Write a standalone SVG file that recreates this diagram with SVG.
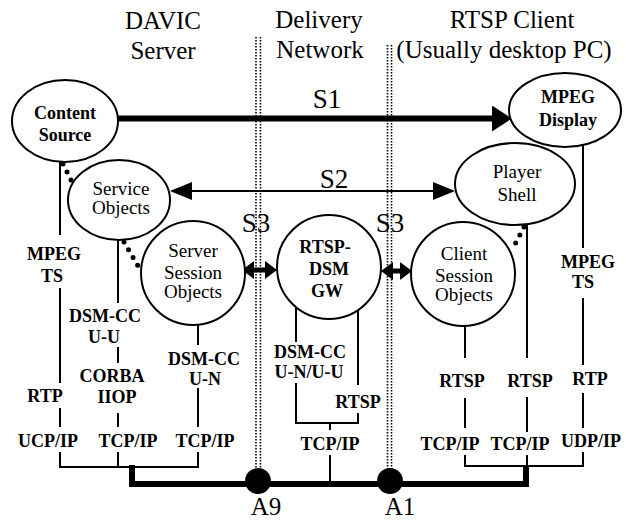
<svg xmlns="http://www.w3.org/2000/svg" width="626" height="522" viewBox="0 0 626 522">
  <style>
    .node { fill: #fff; stroke: #000; stroke-width: 2; }
    text { font-family: "Liberation Serif", "Times New Roman", serif; text-anchor: middle; fill: #000; }
    .hd { font-size: 25px; }
    .nt { font-size: 19px; }
    .nb { font-size: 18px; font-weight: bold; }
    .lb { font-size: 18px; font-weight: bold; }
    .sl { font-size: 27px; }
    .al { font-size: 25px; }
    .ln { stroke: #000; stroke-width: 2; fill: none; }
    .bus { stroke: #000; stroke-width: 6; fill: none; }
    .sep { stroke: #000; stroke-width: 1.6; stroke-dasharray: 1.6 1.4; }
    .dots { stroke: #000; stroke-width: 5; stroke-linecap: round; stroke-dasharray: 0 9; fill: none; }
  </style>
  <defs>
    <marker id="headBig" markerUnits="userSpaceOnUse" markerWidth="22" markerHeight="28" refX="0" refY="13" orient="auto">
      <path d="M0,0 L20,13 L0,26 z" fill="#000"/>
    </marker>
    <marker id="headMid" markerUnits="userSpaceOnUse" markerWidth="24" markerHeight="20" refX="0" refY="9" orient="auto-start-reverse">
      <path d="M0,0 L22,9 L0,18 z" fill="#000"/>
    </marker>
    <marker id="headS3" markerUnits="userSpaceOnUse" markerWidth="14" markerHeight="20" refX="0" refY="9" orient="auto-start-reverse">
      <path d="M0,0 L12,9 L0,18 z" fill="#000"/>
    </marker>
  </defs>

  <!-- column headings -->
  <g id="headings">
    <text class="hd" x="163" y="29">DAVIC</text>
    <text class="hd" x="163" y="59">Server</text>
    <text class="hd" x="319" y="28">Delivery</text>
    <text class="hd" x="320" y="58">Network</text>
    <text class="hd" x="512" y="28">RTSP Client</text>
    <text class="hd" x="504" y="58">(Usually desktop PC)</text>
  </g>

  <!-- reference-point boundaries -->
  <g id="boundaries">
    <line class="sep" x1="256" y1="37" x2="256" y2="470"/>
    <line class="sep" x1="260.5" y1="37" x2="260.5" y2="470"/>
    <line class="sep" x1="387.5" y1="45" x2="387.5" y2="470"/>
    <line class="sep" x1="391.5" y1="45" x2="391.5" y2="470"/>
  </g>

  <g id="connectors">
    <!-- S1 stream -->
    <line x1="118" y1="118.5" x2="492" y2="118.5" stroke="#000" stroke-width="6" marker-end="url(#headBig)"/>
    <!-- S2 -->
    <line x1="192" y1="191" x2="433" y2="191" stroke="#000" stroke-width="2.2" marker-start="url(#headMid)" marker-end="url(#headMid)"/>
    <!-- S3 links -->
    <line x1="254" y1="270" x2="265" y2="270" stroke="#000" stroke-width="5" marker-start="url(#headS3)" marker-end="url(#headS3)"/>
    <line x1="393" y1="271" x2="400" y2="271" stroke="#000" stroke-width="5" marker-start="url(#headS3)" marker-end="url(#headS3)"/>

    <!-- dotted associations -->
    <line class="dots" x1="63" y1="164" x2="74" y2="186"/>
    <line class="dots" x1="124" y1="242" x2="138" y2="266"/>
    <line class="dots" x1="524" y1="227" x2="512" y2="250"/>

    <!-- DAVIC server protocol stacks -->
    <path class="ln" d="M60,160 V235 M60,288 V383 M60,408 V427 M60,452 V467"/>
    <path class="ln" d="M118,238 V303 M118,347 V363 M118,413 V427 M118,452 V467"/>
    <path class="ln" d="M198,324 V345 M198,388 V427 M198,452 V467"/>
    <line class="ln" x1="59" y1="467" x2="199" y2="467"/>

    <!-- gateway stacks -->
    <path class="ln" d="M296,305 V342 M296,383 V423 H358 V413 M358,385 V308"/>
    <path class="ln" d="M330,423 V430 M330,455 V484"/>

    <!-- client stacks -->
    <path class="ln" d="M465,325 V358 M465,398 V428 M465,455 V466"/>
    <path class="ln" d="M527,224 V358 M527,397 V432 M527,455 V466"/>
    <path class="ln" d="M583,145 V248 M583,298 V365 M583,393 V428 M583,452 V466"/>
    <line class="ln" x1="464" y1="466" x2="584" y2="466"/>

    <!-- backbone -->
    <path class="bus" d="M132,465 V484 H526 V465"/>
  </g>

  <!-- stack labels -->
  <g id="stack-labels">
    <text class="lb" x="54" y="260">MPEG</text>
    <text class="lb" x="52" y="282">TS</text>
    <text class="lb" x="45" y="402">RTP</text>
    <text class="lb" x="48" y="447">UCP/IP</text>

    <text class="lb" x="105" y="322">DSM-CC</text>
    <text class="lb" x="104" y="343">U-U</text>
    <text class="lb" x="112" y="382">CORBA</text>
    <text class="lb" x="117" y="403">IIOP</text>
    <text class="lb" x="128" y="447">TCP/IP</text>

    <text class="lb" x="204" y="365">DSM-CC</text>
    <text class="lb" x="205" y="385">U-N</text>
    <text class="lb" x="205" y="447">TCP/IP</text>

    <text class="lb" x="310" y="358">DSM-CC</text>
    <text class="lb" x="309" y="378">U-N/U-U</text>
    <text class="lb" x="358" y="408">RTSP</text>
    <text class="lb" x="330" y="450">TCP/IP</text>

    <text class="lb" x="462" y="387">RTSP</text>
    <text class="lb" x="450" y="450">TCP/IP</text>
    <text class="lb" x="530" y="387">RTSP</text>
    <text class="lb" x="520" y="450">TCP/IP</text>

    <text class="lb" x="588" y="268">MPEG</text>
    <text class="lb" x="583" y="288">TS</text>
    <text class="lb" x="590" y="385">RTP</text>
    <text class="lb" x="591" y="447">UDP/IP</text>
  </g>

  <!-- interface labels -->
  <g id="interface-labels">
    <text class="sl" x="327" y="108">S1</text>
    <text class="sl" x="334" y="188">S2</text>
    <text class="sl" x="256" y="232">S3</text>
    <text class="sl" x="390" y="232">S3</text>
  </g>

  <g id="content-source">
    <ellipse class="node" cx="65" cy="121" rx="53" ry="41"/>
    <text class="nb" x="65" y="119">Content</text>
    <text class="nb" x="65" y="141">Source</text>
  </g>
  <g id="service-objects">
    <ellipse class="node" cx="119" cy="200" rx="51" ry="40"/>
    <text class="nt" x="121" y="195">Service</text>
    <text class="nt" x="121" y="214">Objects</text>
  </g>
  <g id="server-session-objects">
    <circle class="node" cx="193" cy="273" r="52"/>
    <text class="nt" x="193" y="257">Server</text>
    <text class="nt" x="193" y="279">Session</text>
    <text class="nt" x="193" y="298">Objects</text>
  </g>
  <g id="rtsp-dsm-gw">
    <circle class="node" cx="329" cy="267" r="52"/>
    <text class="nb" x="325" y="253">RTSP-</text>
    <text class="nb" x="329" y="275">DSM</text>
    <text class="nb" x="327" y="297">GW</text>
  </g>
  <g id="client-session-objects">
    <circle class="node" cx="463" cy="274" r="52"/>
    <text class="nt" x="464" y="260">Client</text>
    <text class="nt" x="464" y="282">Session</text>
    <text class="nt" x="464" y="301">Objects</text>
  </g>
  <g id="player-shell">
    <ellipse class="node" cx="515" cy="184" rx="60" ry="41"/>
    <text class="nt" x="517" y="178">Player</text>
    <text class="nt" x="517" y="201">Shell</text>
  </g>
  <g id="mpeg-display">
    <ellipse class="node" cx="565" cy="110" rx="56" ry="37"/>
    <text class="nb" x="568" y="103">MPEG</text>
    <text class="nb" x="568" y="126">Display</text>
  </g>

  <g id="a9">
    <circle cx="258" cy="481" r="13" fill="#000"/>
    <text class="al" x="266" y="515">A9</text>
  </g>
  <g id="a1">
    <circle cx="390" cy="481" r="13" fill="#000"/>
    <text class="al" x="400" y="515">A1</text>
  </g>
</svg>
